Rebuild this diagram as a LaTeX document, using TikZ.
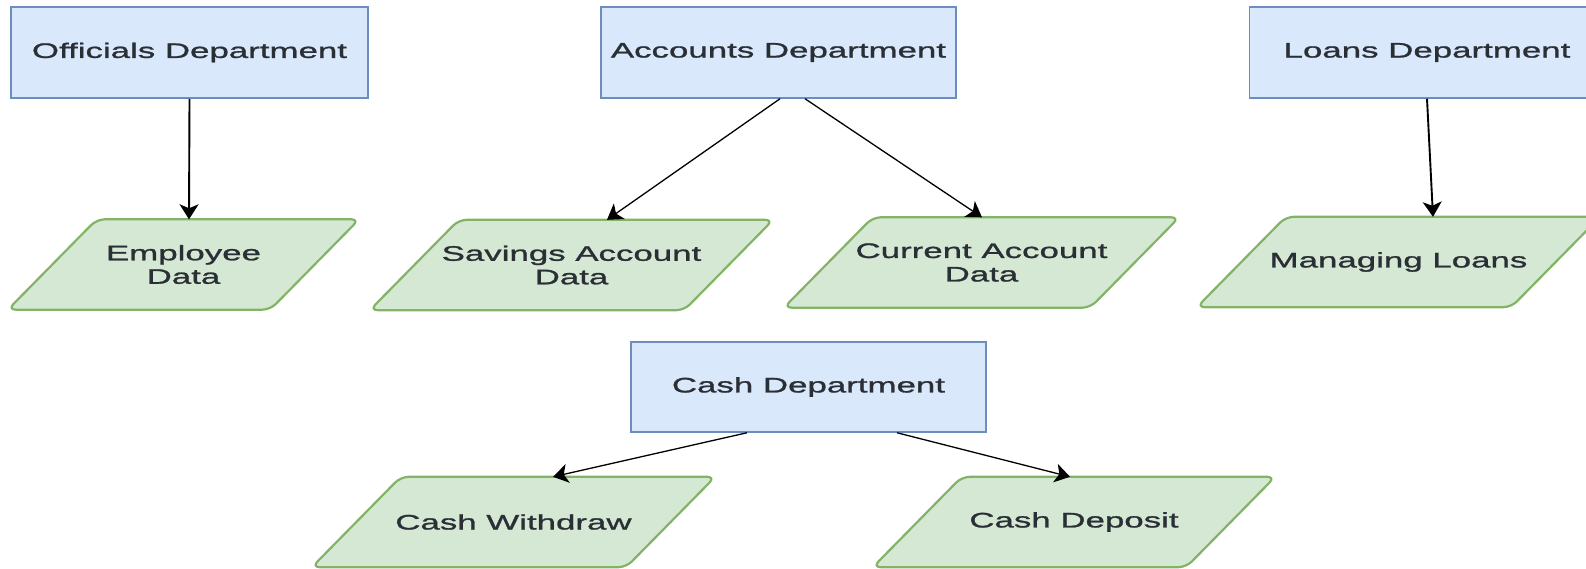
\documentclass[tikz,border=0pt]{standalone}
\usepackage{fontspec}
\usetikzlibrary{arrows.meta,backgrounds}
\newfontfamily\lblfont[FakeStretch=1.66,FakeBold=1.2]{Liberation Sans}
\definecolor{deptfill}{HTML}{DAE8FC}
\definecolor{deptline}{HTML}{6C8EBF}
\definecolor{datafill}{HTML}{D5E8D4}
\definecolor{dataline}{HTML}{82B366}
\definecolor{txt}{HTML}{2A2F36}
\begin{document}
\begin{tikzpicture}[x=1pt,y=-1pt,
  lbl/.style={font=\lblfont\fontsize{21}{23.5}\selectfont, text=txt, align=center, inner sep=0pt},
  dept/.style={lbl, rectangle, draw=deptline, fill=deptfill, line width=1.5pt,
    minimum width=355pt, minimum height=91pt},
  databox/.style={lbl, rectangle, minimum height=90pt},
  dataedge/.style={draw=dataline, fill=datafill, line width=2.2pt, rounded corners=8pt},
  flow/.style={draw=black, line width=1.3pt, -{Stealth[length=15pt,width=19pt,inset=4pt]}},
  flowv/.style={flow, line width=1.9pt}]
\useasboundingbox (0,0) rectangle (1586,568);
\clip (0,0) rectangle (1586,568);

% department boxes
\node[dept, minimum width=357pt] (off) at (189.5,52.5) {Officials Department};
\node[dept] (acc) at (778.5,52.5) {Accounts Department};
\node[dept] (loa) at (1427,52.5) {Loans Department};
\node[dept, minimum height=90pt] (cash) at (808.5,387) {Cash Department};

% data items (text holders; outlines drawn behind)
\node[databox, minimum width=351pt] (emp) at (183.5,264.5) {Employee\\Data};
\node[databox, minimum width=403pt] (sav) at (571.5,265) {Savings Account\\Data};
\node[databox, minimum width=395pt] (cur) at (981.5,262.5) {Current Account\\Data};
\node[databox, minimum width=403pt] (man) at (1398.5,262) {Managing Loans};
\node[databox, minimum width=403pt] (wd) at (513.5,522) {Cash Withdraw};
\node[databox, minimum width=402pt] (dep) at (1074,522) {Cash Deposit};

\begin{pgfonlayer}{background}
  \foreach \n in {emp,sav,cur,man,wd,dep}
    \path[dataedge] ([xshift=89pt]\n.north west) -- (\n.north east)
      -- ([xshift=-89pt]\n.south east) -- (\n.south west) -- cycle;
\end{pgfonlayer}

% connectors
\draw[flowv] (off.south) -- ([xshift=5.5pt]emp.north);
\draw[flow] ([xshift=1.5pt]acc.south) -- ([xshift=35.5pt]sav.north);
\draw[flow] ([xshift=26.5pt]acc.south) -- ([xshift=0.5pt]cur.north);
\draw[flowv] (loa.south) -- ([xshift=34.5pt]man.north);
\draw[flow] ([xshift=-61.5pt]cash.south) -- ([xshift=39.5pt]wd.north);
\draw[flow] ([xshift=88.5pt]cash.south) -- ([xshift=-4pt]dep.north);
\end{tikzpicture}
\end{document}
